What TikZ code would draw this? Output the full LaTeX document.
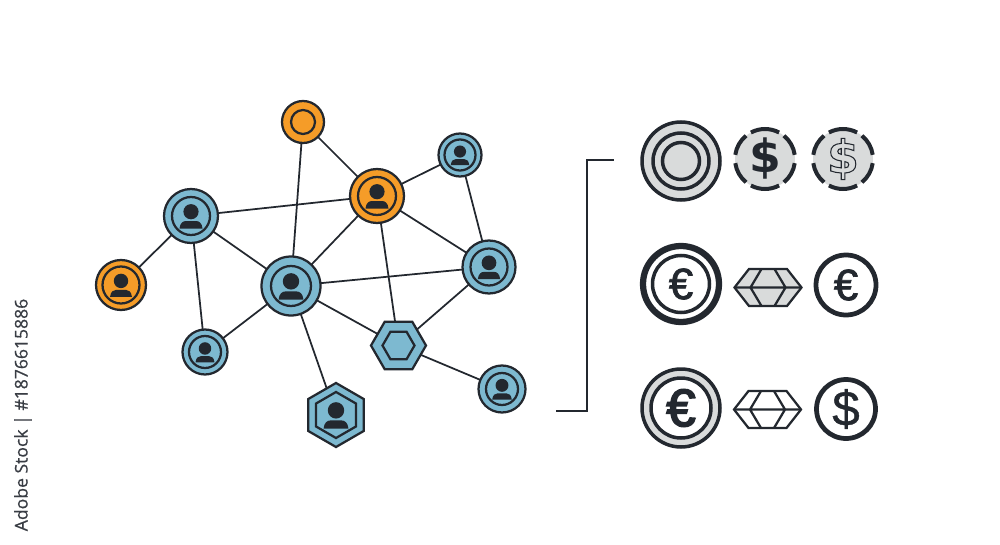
\documentclass[tikz,border=0pt]{standalone}
\usepackage{fontspec}
\setmainfont{Liberation Sans}
\newfontfamily\heavyfont{DejaVu Sans}[BoldFont={DejaVu Sans Bold}]
\newfontfamily\stockfont{Open Sans}[FakeBold=0.6]
\newfontfamily\midfont{Liberation Sans}[FakeBold=1.6]
\newfontfamily\lightfont{Liberation Sans}[FakeBold=0.9]
\newfontfamily\strongfont{Liberation Sans}[FakeBold=3.2]
\usetikzlibrary{shapes.geometric, backgrounds}

\definecolor{ink}{HTML}{23282F}
\definecolor{nodeblue}{HTML}{7DB9D0}
\definecolor{nodeorange}{HTML}{F59C28}
\definecolor{coingray}{HTML}{D9DBDB}

% outlined glyph: stroke and fill in the text state
\newcommand{\outlinedollar}{\special{pdf:code 0.137 0.157 0.184 RG 2 Tr 0.6 w}\heavyfont\bfseries\$\special{pdf:code 0 Tr}}

\tikzset{
    usericon/.pic={
        \fill[ink] (0,-4.3) circle[radius=7.6];
        \fill[ink] (-11.5,12.5) -- (11.5,12.5) .. controls (11,7) and (8,5) .. (5,5) -- (-5,5) .. controls (-8,5) and (-11,7) .. (-11.5,12.5) -- cycle;
    },
    gem/.pic={
        \draw[pic actions, line join=miter] (-33.5,0) -- (-19,-18.5) -- (19,-18.5) -- (33.5,0) -- (19,18.5) -- (-19,18.5) -- cycle;
        \draw[pic actions, fill=none] (-33.5,0) -- (33.5,0) (-6.5,-18.5) -- (-17.5,0) -- (-6.5,18.5) (6.5,-18.5) -- (17.5,0) -- (6.5,18.5);
    },
    chipring/.pic={
        \draw[ink, line width=0.8mm] (8:30) arc[start angle=8, end angle=51, radius=30]
            (62:30) arc[start angle=62, end angle=118, radius=30]
            (129:30) arc[start angle=129, end angle=172, radius=30]
            (188:30) arc[start angle=188, end angle=231, radius=30]
            (242:30) arc[start angle=242, end angle=298, radius=30]
            (309:30) arc[start angle=309, end angle=352, radius=30];
    }
}

\begin{document}
\begin{tikzpicture}[
    x=0.2mm, y=-0.2mm,
    disc/.style={circle, draw=ink, line width=0.45mm, inner sep=0pt, outer sep=0pt, minimum size=#1*0.2mm},
    ring/.style={circle, draw=ink, line width=0.45mm, inner sep=0pt, outer sep=0pt, minimum size=#1*0.2mm},
    hexbox/.style={regular polygon, regular polygon sides=6, draw=ink, line width=0.45mm, inner sep=0pt, outer sep=0pt, minimum size=#1*0.2mm},
    coin/.style={circle, draw=ink, line width=0.7mm, inner sep=0pt, outer sep=0pt, minimum size=#1*0.2mm},
    link/.style={draw=ink, line width=0.35mm},
    bracket/.style={draw=ink, line width=0.28mm},
    gemline/.style={draw=ink, line width=0.45mm}
]
\useasboundingbox (0,0) rectangle (1000,545);

% Network nodes
\node[disc=42, fill=nodeorange] (tophub) at (303,122) {};
\node[ring=24] (topring) at (tophub) {};

\node[disc=54, fill=nodeblue] (leftuser) at (191,216) {};
\node[ring=38] (leftring) at (leftuser) {};
\pic at (leftuser) {usericon};

\node[disc=50, fill=nodeorange] (faruser) at (121,285) {};
\node[ring=37] (farring) at (faruser) {};
\pic[scale=0.95] at (faruser) {usericon};

\node[disc=59, fill=nodeblue] (mainuser) at (291,286) {};
\node[ring=40] (mainring) at (mainuser) {};
\pic[scale=1.08] at (mainuser) {usericon};

\node[disc=54, fill=nodeorange] (hubuser) at (377,196) {};
\node[ring=38] (hubring) at (hubuser) {};
\pic at (hubuser) {usericon};

\node[disc=43, fill=nodeblue] (topuser) at (460,155) {};
\node[ring=31] (topuserring) at (topuser) {};
\pic[scale=0.8] at (topuser) {usericon};

\node[disc=53, fill=nodeblue] (rightuser) at (489,267) {};
\node[ring=37] (rightring) at (rightuser) {};
\pic[scale=0.97] at (rightuser) {usericon};

\node[disc=45, fill=nodeblue] (lowuser) at (205,352) {};
\node[ring=32] (lowring) at (lowuser) {};
\pic[scale=0.82] at (lowuser) {usericon};

\node[disc=47, fill=nodeblue] (edgeuser) at (502,389) {};
\node[ring=32] (edgering) at (edgeuser) {};
\pic[scale=0.85] at (edgeuser) {usericon};

\node[hexbox=55, fill=nodeblue] (hexhub) at (398.5,345.5) {};
\node[hexbox=32] (hexring) at (hexhub) {};

\node[hexbox=64, fill=nodeblue, shape border rotate=30] (hexuser) at (336,415) {};
\node[hexbox=46, shape border rotate=30] (hexuserring) at (hexuser) {};
\pic[scale=1.08] at (hexuser) {usericon};

% Coins, first row
\node[coin=78, fill=coingray] (coinA) at (681,161) {};
\node[coin=56] (coinAmid) at (coinA) {};
\node[coin=37] (coinAin) at (coinA) {};
\node[circle, fill=coingray, inner sep=0pt, outer sep=0pt, minimum size=60*0.2mm, font=\heavyfont\bfseries\fontsize{26}{26}\selectfont, text=ink] (coinB) at (765,159) {\$};
\pic at (coinB) {chipring};
\node[circle, fill=coingray, inner sep=0pt, outer sep=0pt, minimum size=60*0.2mm, font=\fontsize{26}{26}\selectfont, text=coingray] (coinC) at (843,159) {\outlinedollar};
\pic at (coinC) {chipring};

% Coins, second row
\node[coin=76, line width=1.25mm, fill=white] (coinD) at (681,284) {};
\node[coin=57, font=\midfont\fontsize{25}{25}\selectfont, text=ink] (coinDin) at (coinD) {€};
\pic[gemline, fill=coingray] at (768,287.5) {gem};
\node[coin=60, line width=0.95mm, font=\midfont\fontsize{25}{25}\selectfont, text=ink] (coinE) at (846,285) {€};

% Coins, third row
\node[coin=78, fill=coingray] (coinF) at (681,408) {};
\node[coin=60, fill=white, font=\strongfont\fontsize{30}{30}\selectfont, text=ink] (coinFin) at (coinF) {€};
\pic[gemline, fill=white] at (767.5,409.5) {gem};
\node[coin=59, line width=0.95mm, font=\lightfont\fontsize{28}{28}\selectfont, text=ink] (coinG) at (846,409) {\$};

% Bracket ends
\coordinate (bracketlow) at (556,411);
\coordinate (brackettop) at (614,160);
\coordinate (bracketbend) at (587,411);
\draw[bracket] (bracketlow) -- (bracketbend) |- (brackettop);

% Stock line
\node[rotate=90, text=ink!90, font=\stockfont\fontsize{10}{10}\selectfont, inner sep=0pt] (stockline) at (23,415) {Adobe Stock | \#1876615886};

% Links
\begin{scope}[on background layer]
    \draw[link] (tophub) -- (mainuser);
    \draw[link] (tophub) -- (hubuser);
    \draw[link] (leftuser) -- (hubuser);
    \draw[link] (leftuser) -- (mainuser);
    \draw[link] (leftuser) -- (faruser);
    \draw[link] (leftuser) -- (lowuser);
    \draw[link] (mainuser) -- (hubuser);
    \draw[link] (mainuser) -- (rightuser);
    \draw[link] (mainuser) -- (lowuser);
    \draw[link] (mainuser) -- (hexhub);
    \draw[link] (mainuser) -- (hexuser);
    \draw[link] (hubuser) -- (topuser);
    \draw[link] (hubuser) -- (rightuser);
    \draw[link] (hubuser) -- (hexhub);
    \draw[link] (topuser) -- (rightuser);
    \draw[link] (rightuser) -- (hexhub);
    \draw[link] (hexhub) -- (edgeuser);
\end{scope}

\end{tikzpicture}
\end{document}
